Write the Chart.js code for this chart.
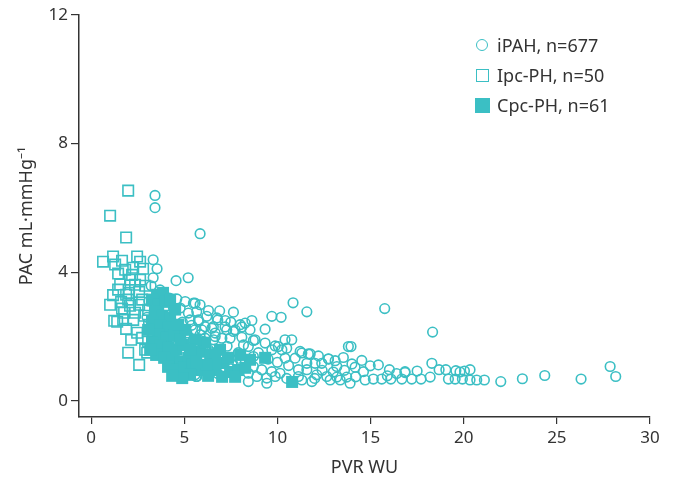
<!DOCTYPE html>
<html>
<head>
<meta charset="utf-8">
<script src="https://cdn.jsdelivr.net/npm/chart.js@4/dist/chart.umd.min.js"></script>
<style>
  body { margin: 0; background: #fff; }
  #wrap { position: relative; width: 675px; height: 481px; }
  #legend { position: absolute; left: 474px; top: 30px; font-family: "Noto Sans"; font-size: 18px; color: #333; }
  .item { height: 30px; display: flex; align-items: center; }
  .sym { width: 16px; height: 16px; margin-right: 7px; display: flex; align-items: center; justify-content: center; }
  .circle { width: 10px; height: 10px; border: 1.6px solid #3bbfc4; border-radius: 50%; }
  .open { width: 11px; height: 11px; border: 1.6px solid #3bbfc4; }
  .filled { width: 15px; height: 15px; background: #3bbfc4; }
</style>
</head>
<body>
<div id="wrap">
  <canvas id="myChart" width="675" height="481"></canvas>
  <div id="legend">
    <div class="item"><div class="sym"><div class="circle"></div></div>iPAH, n=677</div>
    <div class="item"><div class="sym"><div class="open"></div></div>Ipc-PH, n=50</div>
    <div class="item"><div class="sym"><div class="filled"></div></div>Cpc-PH, n=61</div>
  </div>
</div>
<script>
function $(id) {
  return document.getElementById(id);
}

const TEAL = "#3bbfc4";
const xTicks = [0, 5, 10, 15, 20, 25, 30];
const yTicks = [0, 4, 8, 12];

// iPAH  [PVR, PAC]
const ipah = [
  [3.43,6.39],[3.43,6.01],[5.85,5.20],[5.21,3.83],[4.56,3.74],[3.33,4.39],[3.54,4.11],[3.33,3.83],[3.22,3.58],
  [10.84,3.05],[11.58,2.77],[15.76,2.87],[18.33,2.14],[27.86,1.07],[28.16,0.76],[26.30,0.68],[24.35,0.79],
  [23.15,0.69],[21.99,0.60],
  [18.29,1.17],[17.5,0.93],[18.68,0.97],[19.04,0.97],[19.58,0.94],[20.04,0.93],[20.34,0.97],[16.85,0.91],
  [17.21,0.68],[17.71,0.68],[18.2,0.74],[19.18,0.68],[19.54,0.68],[19.93,0.68],[20.34,0.65],[20.7,0.65],
  [21.11,0.65],[19.8,0.9],
  [13.81,1.69],[13.95,1.69],[13.54,1.35],[14.53,1.26],[15.42,1.12],[16.01,0.97],[16.85,0.88],[11.22,1.54],
  [11.66,1.46],[12.74,1.31],[13.19,1.07],[14.17,1.05],[14.98,1.09],[14.62,0.91],[11.58,1.17],[12.02,1.17],
  [12.38,1.17],[11.58,0.97],[12.11,0.81],[12.65,0.76],[13.19,0.74],[13.72,0.74],[14.71,0.65],[15.15,0.68],
  [15.6,0.68],[16.09,0.68],[16.68,0.68],[11.31,0.65],[11.85,0.6],[12.83,0.65],[13.9,0.55],[13.37,0.65],
  [12.4,0.95],[13.0,0.9],[13.6,0.95],[14.2,0.75],[12.2,1.4],[13.1,1.25],[14.0,1.15],[15.9,0.78],[16.4,0.85],
  [5.58,3.04],[6.3,2.81],[7.64,2.76],[9.7,2.63],[10.2,2.6],[8.63,2.5],[8.27,2.42],[6.8,2.52],[5.76,2.52],
  [5.94,2.21],[6.56,2.31],[7.28,2.21],[7.73,2.21],[8.0,2.37],[9.34,2.23],[8.8,1.9],[9.34,1.8],[9.88,1.71],
  [10.41,1.9],[10.77,1.9],[8.44,1.69],[8.18,1.74],[8.98,1.5],[9.7,1.59],[10.24,1.59],[10.41,1.33],[10.95,1.33],
  [11.31,1.49],[8.71,1.38],[8.27,1.28],[8.71,1.07],[9.16,0.97],[9.7,0.91],[10.14,0.86],[11.13,0.97],[8.44,0.86],
  [8.9,0.76],[9.43,0.71],[9.88,0.76],[11.13,0.76],[8.44,0.6],[9.43,0.55],[7.64,1.12],[5.67,0.76],[7.19,2.3],
  [7.64,2.16],[8.09,2.3],[8.53,2.21],[6.12,2.31],[6.12,1.95],[6.66,2.0],[7.46,1.95],[8.09,1.98],[8.71,1.88],
  [10.05,1.69],[10.5,1.64],[11.76,1.46],[12.74,1.3],[10.6,1.1],[10.0,1.2],[9.5,1.3],[7.9,1.5],[7.3,1.7],
  [10.5,0.7],[12.0,0.7],
  [4.6,3.17],[5.05,3.09],[5.49,3.04],[5.85,2.99],[4.78,2.89],[4.42,2.89],[5.22,2.73],[5.67,2.78],[6.75,2.58],
  [5.31,2.52],[5.76,2.47],[6.21,2.63],[6.48,2.26],[5.58,2.21],[6.66,2.11],[4.6,2.11],[5.14,2.11],[5.85,2.06],
  [5.49,1.9],[6.03,1.85],[6.57,1.9],[7.02,1.95],[5.31,1.38],[5.58,0.81],[6.3,1.59],[6.92,1.59],[4.03,2.94],
  [3.53,3.09],[4.9,2.45],[5.4,2.35],[6.0,1.7],[6.5,1.5],[7.0,1.3],[7.5,1.0],[6.8,0.85],[6.2,0.9],[5.0,1.2],
  [4.5,1.5],[4.0,1.9],[3.8,2.4],[4.2,2.6],[7.2,2.5],[7.5,2.45],[6.9,2.8],[3.7,3.45],[3.9,3.3],[4.2,3.2],
  [3.1,3.1],[3.0,2.6],[7.57,1.12],[5.64,0.76]
];

// Ipc-PH
const ipcph = [
  [1.99,6.54],[1.02,5.76],[1.88,5.08],[0.64,4.33],[1.18,4.49],[1.66,4.36],[2.47,4.49],[1.45,3.96],[1.83,4.08],
  [2.26,4.14],[2.79,4.11],[2.09,3.77],[2.63,3.77],[1.45,3.46],[2.04,3.36],[2.58,3.39],[1.88,3.30],[1.61,3.08],
  [2.58,2.99],[2.09,2.96],[1.24,2.49],[1.72,2.52],[2.26,2.52],[1.88,2.24],[2.47,2.12],[2.74,1.96],[1.99,1.50],
  [2.90,1.59],[2.58,1.12],[3.01,1.50],[1.40,2.46],[1.56,3.62],[2.36,3.61],[2.90,3.58],[1.66,2.87],[2.85,2.65],
  [3.06,2.83],[2.15,1.90],[3.06,1.84],[3.33,2.18],[1.29,4.24],[2.63,4.33],[2.20,3.92],[1.77,2.74],[2.36,2.74],
  [1.99,3.15],[3.11,2.37],[1.02,2.99],[2.74,3.15],[1.18,3.29]
];

// Cpc-PH
const cpcph = [
  [3.54,3.30],[3.86,3.36],[3.27,3.15],[3.60,2.99],[3.97,3.08],[3.43,2.77],[3.81,2.65],[4.24,2.59],[3.27,2.46],
  [3.70,2.34],[4.13,2.28],[3.60,2.06],[4.03,1.96],[4.46,2.02],[3.27,1.81],[3.70,1.71],[4.13,1.65],[4.56,1.59],
  [4.94,1.74],[3.49,1.43],[3.92,1.34],[4.35,1.28],[4.78,1.21],[5.21,1.34],[4.13,1.06],[4.56,0.97],[4.99,1.03],
  [5.42,1.12],[5.85,1.53],[6.12,1.81],[6.39,1.43],[6.92,1.59],[7.08,1.18],[6.66,0.96],[5.85,0.96],[7.46,0.90],
  [7.89,0.96],[7.73,0.75],[8.27,1.03],[9.34,1.34],[10.79,0.59],[5.31,0.81],[6.28,0.78],[7.03,0.75],[5.58,1.90],
  [5.05,2.21],[4.67,2.37],[4.51,2.84],[4.24,3.15],[3.06,2.21],[3.17,1.59],[4.78,1.90],[5.31,1.59],[6.66,1.28],
  [8.53,1.28],[8.00,1.43],[7.35,1.34],[6.17,1.12],[5.64,1.21],[4.89,0.71],[4.35,0.78]
];

function toPoints(arr) {
  return arr.map(p => ({ x: p[0], y: p[1] }));
}

function fixTicks(values) {
  return function(scale) {
    scale.ticks = values.map(v => ({ value: v }));
  };
}

let cd = Chart.defaults;
cd.font.family = "Noto Sans";
cd.font.size = 18;
cd.color = "#333";

window.onload = function() {
  const ctx = $("myChart").getContext("2d");
  new Chart(ctx, {
    type: "scatter",
    data: {
      datasets: [{
        label: "Cpc-PH, n=61",
        data: toPoints(cpcph),
        pointStyle: "rect",
        pointRadius: 8.5,
        backgroundColor: TEAL,
        borderColor: TEAL,
        borderWidth: 0,
        order: 0
      }, {
        label: "iPAH, n=677",
        data: toPoints(ipah),
        pointStyle: "circle",
        pointRadius: 4.8,
        backgroundColor: "rgba(0,0,0,0)",
        borderColor: TEAL,
        borderWidth: 1.6,
        order: 1
      }, {
        label: "Ipc-PH, n=50",
        data: toPoints(ipcph),
        pointStyle: "rect",
        pointRadius: 7.4,
        backgroundColor: "rgba(0,0,0,0)",
        borderColor: TEAL,
        borderWidth: 1.6,
        order: 2
      }]
    },
    options: {
      responsive: false,
      animation: false,
      layout: { padding: { top: 15, right: 25, left: 0, bottom: 0 } },
      plugins: {
        legend: { display: false },
        tooltip: { enabled: false }
      },
      scales: {
        x: {
          type: "linear",
          min: -0.65,
          max: 30,
          afterBuildTicks: fixTicks(xTicks),
          afterFit: function(scale) { scale.height = 64; },
          grid: { drawOnChartArea: false, drawTicks: true, tickLength: 7, color: "#333", lineWidth: 1.2 },
          border: { display: true, color: "#333", width: 1.5 },
          ticks: { padding: 4, color: "#333", font: { size: 17 } },
          title: { display: true, text: "PVR WU", color: "#333", padding: { top: 4, bottom: 2 } }
        },
        y: {
          type: "linear",
          min: -0.5,
          max: 12,
          afterBuildTicks: fixTicks(yTicks),
          afterFit: function(scale) { scale.width = 79; },
          grid: { drawOnChartArea: false, drawTicks: true, tickLength: 8, color: "#333", lineWidth: 1.2 },
          border: { display: true, color: "#333", width: 1.5 },
          ticks: { padding: 3, color: "#333", font: { size: 17 } },
          title: { display: true, text: "PAC mL·mmHg⁻¹", color: "#333", padding: { top: 16, bottom: 0 } }
        }
      }
    }
  });
};
</script>
</body>
</html>
